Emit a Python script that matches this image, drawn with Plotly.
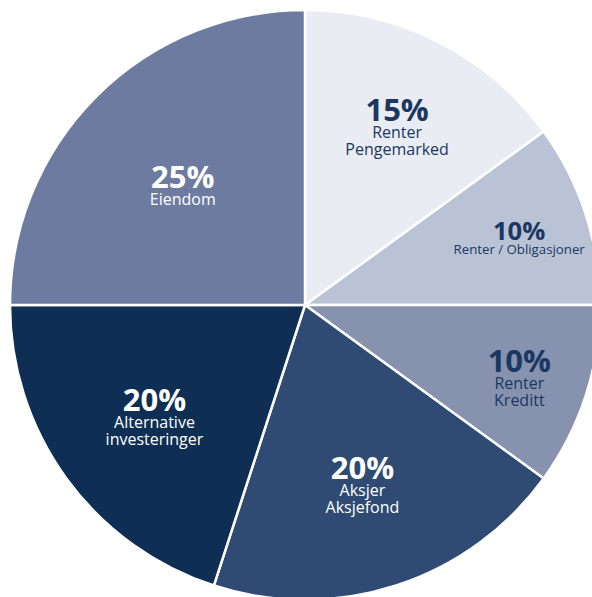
import plotly.graph_objects as go

labels = ["Renter<br>Pengemarked", "Renter / Obligasjoner", "Renter<br>Kreditt",
          "Aksjer<br>Aksjefond", "Alternative<br>investeringer", "Eiendom"]
values = [15, 10, 10, 20, 20, 25]
colors = ["#E9ECF3", "#BAC3D6", "#8692AE", "#2F4B74", "#0F2E53", "#6C7B9F"]
text_colors = ["#1B3762", "#1B3762", "#1B3762", "#FFFFFF", "#FFFFFF", "#FFFFFF"]

texts = []
for lab, v in zip(labels, values):
    lines = "<br>".join(f"<span style='font-size:16px'>{ln}</span>" for ln in lab.split("<br>"))
    texts.append(f"<span style='font-size:31px;font-weight:bold'>{v}%</span><br>{lines}")

fig = go.Figure(go.Pie(
    labels=labels,
    values=values,
    text=texts,
    sort=False,
    direction="clockwise",
    rotation=0,
    marker=dict(colors=colors, line=dict(color="#FFFFFF", width=2.5)),
    texttemplate="%{text}",
    textposition="inside",
    insidetextorientation="horizontal",
    textfont=dict(family="Open Sans, sans-serif", size=13, color=text_colors),
    showlegend=False,
    hoverinfo="skip",
))

fig.update_layout(
    width=610, height=610,
    margin=dict(l=10, r=10, t=10, b=10),
    paper_bgcolor="#FFFFFF",
)

fig.write_html("out.html", post_script="document.body.style.overflow='hidden';document.body.style.margin='0';")
